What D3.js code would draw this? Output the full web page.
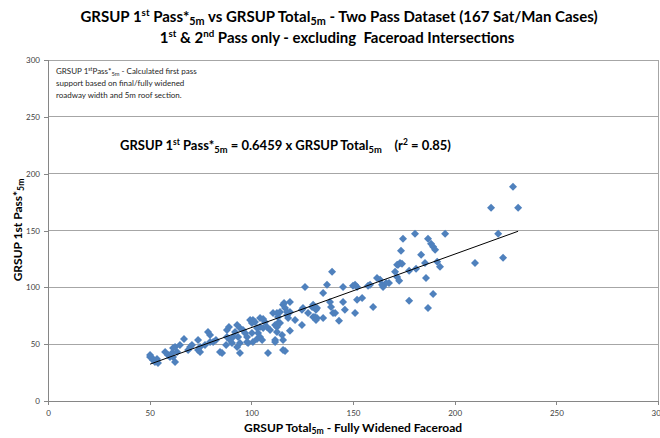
<!DOCTYPE html>
<html><head><meta charset="utf-8">
<script src="https://cdn.jsdelivr.net/npm/d3@7"></script>
<style>
body{margin:0;background:#fff;}
text{font-family:Lato,"Noto Sans",sans-serif;white-space:pre;}
</style>
</head><body>
<svg id="chart" width="660" height="438"></svg>
<script>
// GRSUP Total (5m) - x values
const totalValues = [50.2,51.2,51.6,52.6,54.1,53.6,50.2,59.0,60.0,61.5,62.5,63.5,61.5,61.0,62.5,66.9,68.9,70.8,69.9,74.8,
73.8,74.8,73.8,78.7,79.7,81.2,82.6,84.6,85.6,88.0,89.0,88.0,89.5,90.5,93.0,93.5,93.0,87.6,91.0,94.4,
95.9,96.9,97.9,97.9,98.4,94.4,94.4,79.7,99.4,100.8,100.3,101.8,100.3,100.8,102.8,103.3,104.3,105.3,104.3,105.8,
106.7,104.3,105.8,102.8,107.7,108.2,110.7,112.6,113.1,113.1,111.7,112.6,112.6,111.7,111.7,114.1,115.1,115.6,115.6,116.6,
115.6,116.6,117.6,119.0,119.0,116.1,117.6,118.1,119.0,114.1,124.9,125.4,124.9,126.4,129.9,130.4,131.8,132.3,130.4,131.3,
132.3,131.8,135.3,135.3,137.2,138.7,139.2,140.2,139.7,141.2,143.1,145.1,145.1,150.0,151.0,152.0,152.0,151.0,154.5,157.4,
159.9,158.4,161.8,163.3,164.3,164.8,167.7,166.3,170.7,171.7,172.7,172.2,173.1,174.1,171.7,173.6,174.6,177.6,177.6,180.5,
181.0,183.5,185.4,185.9,186.9,188.4,189.4,190.4,191.4,186.9,189.4,192.8,195.3,210.0,217.9,221.4,223.8,228.7,231.2,
57.6,64.9,77.2,92.0,109.2,121.5,127.9,146.0];
// GRSUP 1st Pass* (5m) - y values
const firstPassValues = [38.8,37.9,36.1,34.4,33.5,37.0,40.5,40.5,38.8,38.8,34.4,43.2,46.7,42.3,47.6,54.6,44.9,49.3,47.6,47.6,
53.7,43.2,44.9,60.8,52.0,52.0,53.7,43.2,42.3,62.5,65.2,56.4,53.7,51.1,66.9,56.4,47.6,49.3,56.4,64.3,
62.5,59.9,56.4,52.0,51.1,51.1,42.3,58.1,71.3,71.3,68.7,69.6,59.9,52.0,54.6,59.9,56.4,53.7,73.1,72.2,
69.6,65.2,64.3,64.3,65.2,42.3,77.5,77.5,74.0,68.7,66.9,65.2,60.8,53.7,52.0,78.4,58.1,53.7,44.9,44.0,
84.6,81.9,78.4,87.2,78.4,86.3,75.7,73.1,61.7,68.7,66.9,81.9,80.2,100.4,82.8,84.6,80.2,81.9,74.0,74.0,
73.1,71.3,73.1,95.1,102.2,87.2,82.8,77.5,113.6,77.5,70.5,100.4,87.2,101.3,102.2,100.4,89.0,77.5,90.7,101.3,
82.8,102.2,108.3,106.6,102.2,100.4,103.9,103.9,113.6,109.2,105.7,119.8,121.5,120.7,119.8,132.1,142.7,114.5,88.1,147.1,
116.3,128.6,121.5,108.3,142.7,138.3,135.6,133.0,122.4,81.9,94.2,118.0,147.1,121.5,170.0,147.1,126.0,188.5,170.0,
43.2,49.3,49.3,60.8,62.5,71.3,77.5,80.2];
const xTicks = [0,50,100,150,200,250,300];
const yTicks = [0,50,100,150,200,250,300];
const slope = 0.6459;

const svg = d3.select("#chart");
const W=660,H=438;
const m={left:48,right:658,top:60,bottom:401};
const x=d3.scaleLinear().domain([0,300]).range([m.left,m.right]);
const y=d3.scaleLinear().domain([0,300]).range([m.bottom,m.top]);

svg.append("rect").attr("width",W).attr("height",H).attr("fill","#fff");

// gridlines
svg.append("g").selectAll("line").data(yTicks.filter(d=>d>0)).join("line")
  .attr("x1",m.left).attr("x2",m.right).attr("y1",d=>y(d)).attr("y2",d=>y(d))
  .attr("stroke","#a6a6a6").attr("stroke-width",1).attr("shape-rendering","crispEdges");
// right border
svg.append("line").attr("x1",m.right).attr("x2",m.right).attr("y1",m.top).attr("y2",m.bottom)
  .attr("stroke","#a6a6a6").attr("shape-rendering","crispEdges");

// axes
const xAxis=d3.axisBottom(x).tickValues(xTicks).tickSize(4).tickPadding(5);
const yAxis=d3.axisLeft(y).tickValues(yTicks).tickSize(4).tickPadding(4);
const gx=svg.append("g").attr("transform",`translate(0,${m.bottom})`).call(xAxis);
const gy=svg.append("g").attr("transform",`translate(${m.left},0)`).call(yAxis);
[gx,gy].forEach(g=>{
  g.select(".domain").attr("stroke","#868686").attr("shape-rendering","crispEdges");
  g.selectAll(".tick line").attr("stroke","#868686").attr("shape-rendering","crispEdges");
  g.selectAll(".tick text").attr("fill","#404040").attr("font-size","8px").attr("font-family","Lato,sans-serif");
});

// points
const pts = totalValues.map((v,i)=>({x:v,y:firstPassValues[i]}));
svg.append("g").selectAll("path").data(pts).join("path")
  .attr("d","M0,-4L4,0L0,4L-4,0Z")
  .attr("transform",d=>`translate(${x(d.x)},${y(d.y)})`)
  .attr("fill","#4f81bd");

// trendline
const xMin=d3.min(totalValues), xMax=d3.max(totalValues);
svg.append("line").attr("x1",x(xMin)).attr("y1",y(slope*xMin)).attr("x2",x(xMax)).attr("y2",y(slope*xMax))
  .attr("stroke","#000").attr("stroke-width",1);

function addText(parent, xpos, ypos, parts, opts){
  const t=parent.append("text").attr("x",xpos).attr("y",ypos)
    .attr("text-anchor",opts.anchor||"start").attr("font-size",opts.size+"px")
    .attr("font-weight",opts.weight||"normal").attr("fill",opts.fill||"#000");
  if(opts.transform) t.attr("transform",opts.transform);
  parts.forEach(p=>{
    const s=t.append("tspan").text(p.t);
    if(p.sup){ s.attr("baseline-shift",(opts.size*0.38)+"px").attr("font-size",(opts.size*0.65)+"px"); }
    if(p.sub){ s.attr("baseline-shift",(-opts.size*0.2)+"px").attr("font-size",(opts.size*0.72)+"px"); }
  });
  return t;
}
// title
addText(svg,339,22,[{t:"GRSUP 1"},{t:"st",sup:1},{t:" Pass*"},{t:"5m",sub:1},{t:" vs GRSUP Total"},{t:"5m",sub:1},{t:" - Two Pass Dataset (167 Sat/Man Cases)"}],{size:15,weight:"bold",anchor:"middle",fill:"#000"});
addText(svg,337,43,[{t:"1"},{t:"st",sup:1},{t:" & 2"},{t:"nd",sup:1},{t:" Pass only - excluding  Faceroad Intersections"}],{size:15,weight:"bold",anchor:"middle",fill:"#000"});

// annotation
addText(svg,56,74,[{t:"GRSUP 1"},{t:"st",sup:1},{t:"Pass*"},{t:"5m",sub:1},{t:" - Calculated first pass"}],{size:8,fill:"#262626"});
addText(svg,56,86,[{t:"support based on final/fully widened"}],{size:8,fill:"#262626"});
addText(svg,56,98,[{t:"roadway width and 5m roof section."}],{size:8,fill:"#262626"});

// equation
addText(svg,120,150,[{t:"GRSUP 1"},{t:"st",sup:1},{t:" Pass*"},{t:"5m",sub:1},{t:" = 0.6459 x GRSUP Total"},{t:"5m",sub:1},{t:"    (r"},{t:"2",sup:1},{t:" = 0.85)"}],{size:13,weight:"bold"});

// axis titles
addText(svg,353,432,[{t:"GRSUP Total"},{t:"5m",sub:1},{t:" - Fully Widened Faceroad"}],{size:12,weight:"bold",anchor:"middle"});
addText(svg,0,0,[{t:"GRSUP 1st Pass*"},{t:"5m",sub:1}],{size:12,weight:"bold",anchor:"middle",transform:"translate(22,230) rotate(-90)"});
</script>
</body></html>
